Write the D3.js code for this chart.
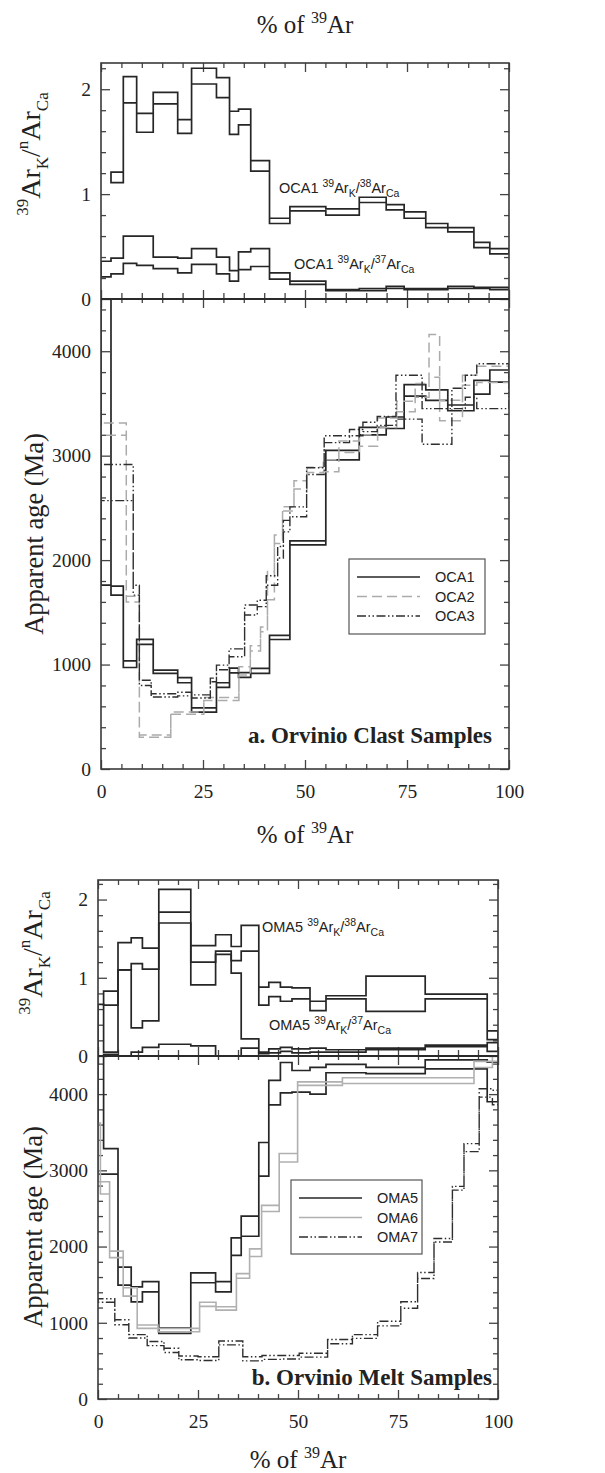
<!DOCTYPE html>
<html>
<head>
<meta charset="utf-8">
<script src="https://cdn.jsdelivr.net/npm/d3@7"></script>
<style>
  body { margin: 0; background: #fff; }
  svg text { font-family: "Liberation Serif", "Times New Roman", serif; fill: #222; }
  svg text.sans { font-family: "Liberation Sans", Arial, sans-serif; }
  .tick line { stroke: #444; stroke-width: 1.3; }
</style>
</head>
<body>
<svg id="chart" width="605" height="1473"></svg>
<script>
/**
 * Data (% of 39Ar released vs value)
 * Each step is [edge i, edge i+1] with a low / high bound
 */
var xTicksMajor = [0, 25, 50, 75, 100];
var ratioTicks = [0, 1, 2];
var ageTicks = [0, 1000, 2000, 3000, 4000];

// Orvinio clast samples
var oca1Edges = [0, 2.45, 5.47, 8.74, 12.8, 18.8, 22.2, 28.3, 31.5, 33.7, 36.7, 41.3, 46.3, 55.1, 63.3, 69.9, 74.3, 79.6, 85.0, 91.4, 95.3, 100];
var oca1AgeLo = [1760, 1665, 972, 1193, 916, 826, 545, 782, 920, 877, 916, 1240, 2145, 2960, 3200, 3260, 3570, 3530, 3430, 3590, 3705];
var oca1AgeHi = [4700, 1750, 1036, 1241, 947, 874, 585, 826, 965, 922, 963, 1280, 2185, 3050, 3270, 3370, 3680, 3630, 3485, 3720, 3820];
var oca1K38Lo = [null, 1.11, 1.87, 1.59, 1.86, 1.58, 2.05, 1.92, 1.57, 1.66, 1.22, 0.72, 0.84, 0.80, 0.92, 0.85, 0.77, 0.68, 0.64, 0.49, 0.43];
var oca1K38Hi = [null, 1.21, 2.12, 1.77, 1.97, 1.71, 2.20, 2.11, 1.79, 1.81, 1.32, 0.77, 0.88, 0.86, 0.97, 0.90, 0.83, 0.72, 0.68, 0.54, 0.48];
var oca1K37Lo = [0.21, 0.24, 0.34, 0.32, 0.29, 0.25, 0.33, 0.24, 0.17, 0.28, 0.31, 0.19, 0.14, 0.08, 0.08, 0.10, 0.09, 0.09, 0.10, 0.10, 0.09];
var oca1K37Hi = [0.36, 0.39, 0.60, 0.60, 0.40, 0.39, 0.48, 0.40, 0.27, 0.45, 0.48, 0.25, 0.17, 0.09, 0.10, 0.12, 0.10, 0.10, 0.12, 0.11, 0.11];

var oca2Edges = [0, 6.2, 9.4, 17.1, 25.2, 33.8, 36.6, 39.1, 40.8, 42.5, 44.5, 47.3, 50.5, 54.5, 58.3, 63.3, 67.8, 72.5, 77.0, 80.4, 83.0, 88.6, 92.1, 100];
var oca2AgeLo = [3196, 1600, 305, 525, 655, 900, 1130, 1315, 1620, 2160, 2470, 2680, 2840, 2845, 3030, 3090, 3270, 3420, 3560, 3750, 3335, 3675, 3700];
var oca2AgeHi = [3313, 1655, 325, 545, 685, 980, 1180, 1360, 1890, 2240, 2510, 2760, 2890, 2960, 3140, 3200, 3360, 3520, 3690, 4160, 3530, 3770, 3855];

var oca3Edges = [0, 7.9, 9.4, 12.3, 18.8, 22.2, 26.8, 28.3, 31.4, 35.2, 38.3, 40.5, 43.3, 44.7, 46.3, 50.4, 54.7, 60.9, 64.2, 67.7, 72.3, 78.7, 86.0, 89.3, 92.1, 100];
var oca3AgeLo = [2570, 1665, 800, 690, 700, 680, 835, 950, 1075, 1475, 1555, 1760, 2020, 2270, 2415, 2820, 3125, 3190, 3230, 3290, 3350, 3110, 3450, 3560, 3450];
var oca3AgeHi = [2915, 1760, 850, 720, 735, 710, 870, 995, 1150, 1570, 1615, 1850, 2130, 2380, 2510, 2885, 3190, 3250, 3320, 3375, 3770, 3450, 3645, 3770, 3880];

// Orvinio melt samples
var oma5Edges = [0, 1.4, 5.0, 8.3, 11.1, 15.2, 23.2, 29.4, 33.3, 35.8, 40.2, 42.7, 45.6, 48.5, 53.0, 57.0, 67.0, 81.8, 97.3, 100];
var oma5AgeLo = [2950, 2950, 1495, 1275, 1405, 860, 1525, 1405, 1885, 2135, 2925, 3860, 4015, 4025, 4000, 4280, 4270, 4330, 3900];
var oma5AgeHi = [4700, 3285, 1730, 1470, 1540, 935, 1655, 1540, 2115, 2400, 3365, 4180, 4415, 4310, 4350, 4390, 4350, 4450, 4420];
var oma5K38Lo = [null, 0.65, 1.10, 1.18, 1.11, 1.84, 1.20, 1.34, 1.22, 1.34, 0.65, 0.76, 0.70, 0.73, 0.58, 0.73, 0.57, 0.73, 0.21];
var oma5K38Hi = [null, 0.83, 1.45, 1.51, 1.38, 2.13, 1.41, 1.55, 1.40, 1.67, 0.88, 0.94, 0.88, 0.87, 0.70, 0.77, 1.02, 0.79, 0.32];
var oma5K37Lo = [0.00, 0.02, 0.00, 0.05, 0.11, 0.15, 0.13, 0.00, 0.00, 0.10, 0.03, 0.04, 0.06, 0.04, 0.05, 0.05, 0.08, 0.12, 0.06];
var oma5K37Hi = [0.66, 0.05, 1.10, 0.36, 0.45, 1.70, 0.91, 1.30, 1.06, 0.22, 0.05, 0.09, 0.11, 0.09, 0.10, 0.08, 0.10, 0.14, 0.17];

var oma6Edges = [0, 0.6, 2.9, 6.3, 9.8, 15.0, 25.4, 29.5, 34.6, 37.9, 40.9, 45.3, 49.9, 61.1, 94.0, 98.6, 100];
var oma6AgeLo = [2850, 2690, 1855, 1350, 926, 882, 1215, 1166, 1585, 1870, 2460, 3110, 4115, 4140, 4350, 4430];
var oma6AgeHi = [3620, 2850, 1940, 1460, 970, 926, 1270, 1210, 1645, 1970, 2540, 3220, 4160, 4215, 4430, 4500];

var oma7Edges = [0, 4.2, 7.7, 12.3, 16.5, 20.2, 25.0, 30.2, 36.2, 41.0, 45.8, 50.3, 57.4, 63.6, 69.9, 75.7, 79.9, 84.0, 88.6, 91.5, 95.3, 98.6, 100];
var oma7AgeLo = [1270, 975, 800, 700, 610, 515, 505, 710, 500, 520, 525, 550, 725, 795, 960, 1190, 1580, 2060, 2740, 3245, 3960, 3860];
var oma7AgeHi = [1315, 1040, 845, 755, 665, 565, 555, 760, 555, 570, 570, 600, 780, 845, 1020, 1275, 1660, 2105, 2790, 3350, 4070, 4050];

/**
 * Styles
 */
var darkLine = { stroke: '#262626', width: 1.7, dash: null };
var greyDash = { stroke: '#ababab', width: 1.5, dash: '10,5' };
var greyLine = { stroke: '#b0b0b0', width: 1.6, dash: null };
var dashDot = { stroke: '#2e2e2e', width: 1.4, dash: '9,2.5,1.5,2.5,1.5,2.5' };

var svg = d3.select('#chart');
svg.append('rect').attr('width', 605).attr('height', 1473).attr('fill', '#fff');

// Outline of a step spectrum: upper bound left->right, lower bound back
var stepOutline = function stepOutline(edges, lo, hi, x, y) {
  var p = d3.path();
  var n = lo.length;
  var i = 0;
  while (i < n) {
    if (lo[i] == null) { i++; continue; }
    var j = i;
    while (j < n && lo[j] != null) j++;
    p.moveTo(x(edges[i]), y(lo[i]));
    p.lineTo(x(edges[i]), y(hi[i]));
    for (var k = i; k < j; k++) {
      p.lineTo(x(edges[k + 1]), y(hi[k]));
      if (k + 1 < j) p.lineTo(x(edges[k + 1]), y(hi[k + 1]));
    }
    p.lineTo(x(edges[j]), y(lo[j - 1]));
    for (var m = j - 1; m >= i; m--) {
      p.lineTo(x(edges[m]), y(lo[m]));
      if (m - 1 >= i) p.lineTo(x(edges[m]), y(lo[m - 1]));
    }
    p.closePath();
    i = j;
  }
  return p.toString();
};

var drawSeries = function drawSeries(g, edges, lo, hi, x, y, style) {
  g.append('path')
    .attr('d', stepOutline(edges, lo, hi, x, y))
    .attr('fill', 'none')
    .attr('stroke', style.stroke)
    .attr('stroke-width', style.width)
    .attr('stroke-dasharray', style.dash)
    .attr('stroke-linejoin', 'miter');
};

// "39ArK/38ArCa" style label built from tspans; dy keeps track of the baseline
var ratioText = function ratioText(sel, parts, big, small) {
  var offset = 0;
  parts.forEach(function(d) {
    var target = d.pos === 'sup' ? -0.42 * big : d.pos === 'sub' ? 0.3 * big : 0;
    sel.append('tspan')
      .attr('dy', target - offset)
      .style('font-size', (d.pos ? small : big) + 'px')
      .text(d.t);
    offset = target;
  });
};

var axisTitle = function axisTitle(cx, cy) {
  var t = svg.append('text')
    .attr('x', cx).attr('y', cy)
    .attr('text-anchor', 'middle')
    .style('font-size', '25px');
  ratioText(t, [{ t: '% of ' }, { t: '39', pos: 'sup' }, { t: 'Ar' }], 25, 16);
};

/**
 * One panel: ratio plot on top, age spectrum below
 */
var drawPanel = function drawPanel(cfg) {
  var x = d3.scaleLinear().domain([0, 100]).range([cfg.x0, cfg.x1]);
  var yR = d3.scaleLinear().domain([0, 2.25]).range([cfg.mid, cfg.top]);
  var yA = d3.scaleLinear().domain([0, 4500]).range([cfg.bot, cfg.mid]);
  var minorX = d3.range(0, 101, 5).filter(function(v) { return v % 25 !== 0; });
  var minorR = d3.range(0.2, 2.21, 0.2).filter(function(v) { return Math.abs(v - Math.round(v)) > 0.01; });
  var minorA = d3.range(200, 4500, 200).filter(function(v) { return v % 1000 !== 0; });

  var g = svg.append('g');
  var id = cfg.id;

  g.append('clipPath').attr('id', id + 'r').append('rect')
    .attr('x', cfg.x0).attr('y', cfg.top).attr('width', cfg.x1 - cfg.x0).attr('height', cfg.mid - cfg.top);
  g.append('clipPath').attr('id', id + 'a').append('rect')
    .attr('x', cfg.x0).attr('y', cfg.mid).attr('width', cfg.x1 - cfg.x0).attr('height', cfg.bot - cfg.mid);

  // ticks, all pointing inwards; unlabelled axes lose their text nodes
  var tickGroup = function(axis, tx, ty, labelled) {
    var a = g.append('g').attr('transform', 'translate(' + tx + ',' + ty + ')').call(axis);
    a.select('.domain').remove();
    if (!labelled) {
      a.selectAll('text').remove();
      return a;
    }
    a.selectAll('text').style('font-size', '19.5px').attr('fill', '#222')
      .style('font-family', '"Liberation Serif", "Times New Roman", serif');
    return a;
  };

  // x ticks
  tickGroup(d3.axisTop(x).tickValues(xTicksMajor).tickSize(-9), 0, cfg.top);
  tickGroup(d3.axisTop(x).tickValues(minorX).tickSize(-5), 0, cfg.top);
  tickGroup(d3.axisBottom(x).tickValues(xTicksMajor).tickSize(-9), 0, cfg.mid);
  tickGroup(d3.axisBottom(x).tickValues(minorX).tickSize(-6), 0, cfg.mid);
  tickGroup(d3.axisTop(x).tickValues(xTicksMajor).tickSize(-9), 0, cfg.mid);
  tickGroup(d3.axisTop(x).tickValues(minorX).tickSize(-4), 0, cfg.mid);
  tickGroup(d3.axisBottom(x).tickValues(xTicksMajor).tickSize(-9).tickPadding(15.5).tickFormat(d3.format('d')), 0, cfg.bot, true);
  tickGroup(d3.axisBottom(x).tickValues(minorX).tickSize(-5), 0, cfg.bot);

  // ratio ticks
  tickGroup(d3.axisLeft(yR).tickValues(ratioTicks).tickSize(-9).tickPadding(10).tickFormat(d3.format('d')), cfg.x0, 0, true);
  tickGroup(d3.axisLeft(yR).tickValues(minorR).tickSize(-5), cfg.x0, 0);
  tickGroup(d3.axisRight(yR).tickValues(ratioTicks).tickSize(-9), cfg.x1, 0);
  tickGroup(d3.axisRight(yR).tickValues(minorR).tickSize(-5), cfg.x1, 0);

  // age ticks
  tickGroup(d3.axisLeft(yA).tickValues(ageTicks).tickSize(-9).tickPadding(10).tickFormat(d3.format('d')), cfg.x0, 0, true);
  tickGroup(d3.axisLeft(yA).tickValues(minorA).tickSize(-5), cfg.x0, 0);
  tickGroup(d3.axisRight(yA).tickValues(ageTicks).tickSize(-9), cfg.x1, 0);
  tickGroup(d3.axisRight(yA).tickValues(minorA).tickSize(-5), cfg.x1, 0);

  // series
  var gr = g.append('g').attr('clip-path', 'url(#' + id + 'r)');
  cfg.ratios.forEach(function(s) { drawSeries(gr, s.edges, s.lo, s.hi, x, yR, darkLine); });
  var ga = g.append('g').attr('clip-path', 'url(#' + id + 'a)');
  cfg.ages.forEach(function(s) { drawSeries(ga, s.edges, s.lo, s.hi, x, yA, s.style); });

  // frame
  g.append('rect')
    .attr('x', cfg.x0).attr('y', cfg.top)
    .attr('width', cfg.x1 - cfg.x0).attr('height', cfg.bot - cfg.top)
    .attr('fill', 'none').attr('stroke', '#3a3a3a').attr('stroke-width', 1.6);
  g.append('line')
    .attr('x1', cfg.x0).attr('x2', cfg.x1).attr('y1', cfg.mid).attr('y2', cfg.mid)
    .attr('stroke', '#2a2a2a').attr('stroke-width', 2.2);

  // ratio labels
  cfg.ratioLabels.forEach(function(l) {
    var t = g.append('text').attr('class', 'sans').attr('x', l.x).attr('y', l.y);
    ratioText(t, [{ t: l.name + ' ' }, { t: '39', pos: 'sup' }, { t: 'Ar' }, { t: 'K', pos: 'sub' },
      { t: '/' }, { t: l.iso, pos: 'sup' }, { t: 'Ar' }, { t: 'Ca', pos: 'sub' }], 14.5, 10.5);
  });

  // y axis titles
  var rt = g.append('text')
    .attr('transform', 'translate(' + cfg.ratioTitle[0] + ',' + cfg.ratioTitle[1] + ') rotate(-90)')
    .attr('text-anchor', 'middle');
  ratioText(rt, [{ t: '39', pos: 'sup' }, { t: 'Ar' }, { t: 'K', pos: 'sub' }, { t: '/' },
    { t: 'n', pos: 'sup' }, { t: 'Ar' }, { t: 'Ca', pos: 'sub' }], 28, 17);
  g.append('text')
    .attr('transform', 'translate(' + cfg.ageTitle[0] + ',' + cfg.ageTitle[1] + ') rotate(-90)')
    .attr('text-anchor', 'middle')
    .style('font-size', '26.5px')
    .text('Apparent age (Ma)');

  // legend
  var lg = g.append('g');
  lg.append('rect')
    .attr('x', cfg.legend.x).attr('y', cfg.legend.y)
    .attr('width', cfg.legend.w).attr('height', cfg.legend.h)
    .attr('fill', '#fff').attr('stroke', '#555').attr('stroke-width', 1.2);
  cfg.ages.forEach(function(s, i) {
    var ly = cfg.legend.y + 18 + i * 19.5;
    lg.append('line')
      .attr('x1', cfg.legend.x + 8).attr('x2', cfg.legend.x + 71)
      .attr('y1', ly).attr('y2', ly)
      .attr('stroke', s.style.stroke).attr('stroke-width', s.style.width)
      .attr('stroke-dasharray', s.style.dash);
    lg.append('text').attr('class', 'sans')
      .attr('x', cfg.legend.x + 86).attr('y', ly + 5)
      .style('font-size', '14.5px')
      .text(s.name);
  });

  // panel caption
  g.append('text')
    .attr('x', 492).attr('y', cfg.caption[1])
    .attr('text-anchor', 'end')
    .style('font-size', '23px')
    .style('font-weight', 'bold')
    .text(cfg.caption[0]);
};

axisTitle(305, 33);

drawPanel({
  id: 'pa', x0: 101, x1: 509, top: 63, mid: 299, bot: 769,
  ratios: [
    { edges: oca1Edges, lo: oca1K38Lo, hi: oca1K38Hi },
    { edges: oca1Edges, lo: oca1K37Lo, hi: oca1K37Hi }
  ],
  ages: [
    { name: 'OCA1', edges: oca1Edges, lo: oca1AgeLo, hi: oca1AgeHi, style: darkLine },
    { name: 'OCA2', edges: oca2Edges, lo: oca2AgeLo, hi: oca2AgeHi, style: greyDash },
    { name: 'OCA3', edges: oca3Edges, lo: oca3AgeLo, hi: oca3AgeHi, style: dashDot }
  ],
  ratioLabels: [
    { name: 'OCA1', iso: '38', x: 279, y: 193 },
    { name: 'OCA1', iso: '37', x: 294, y: 269 }
  ],
  ratioTitle: [40, 154],
  ageTitle: [43, 534],
  legend: { x: 349, y: 559, w: 136, h: 75 },
  caption: ['a. Orvinio Clast Samples', 743]
});

axisTitle(305, 843);

drawPanel({
  id: 'pb', x0: 98, x1: 498, top: 880, mid: 1056, bot: 1399,
  ratios: [
    { edges: oma5Edges, lo: oma5K38Lo, hi: oma5K38Hi },
    { edges: oma5Edges, lo: oma5K37Lo, hi: oma5K37Hi }
  ],
  ages: [
    { name: 'OMA5', edges: oma5Edges, lo: oma5AgeLo, hi: oma5AgeHi, style: darkLine },
    { name: 'OMA6', edges: oma6Edges, lo: oma6AgeLo, hi: oma6AgeHi, style: greyLine },
    { name: 'OMA7', edges: oma7Edges, lo: oma7AgeLo, hi: oma7AgeHi, style: dashDot }
  ],
  ratioLabels: [
    { name: 'OMA5', iso: '38', x: 262, y: 932 },
    { name: 'OMA5', iso: '37', x: 269, y: 1030 }
  ],
  ratioTitle: [42, 953],
  ageTitle: [42, 1227],
  legend: { x: 291, y: 1180, w: 131, h: 74 },
  caption: ['b. Orvinio Melt Samples', 1385]
});

axisTitle(298, 1468);
</script>
</body>
</html>
